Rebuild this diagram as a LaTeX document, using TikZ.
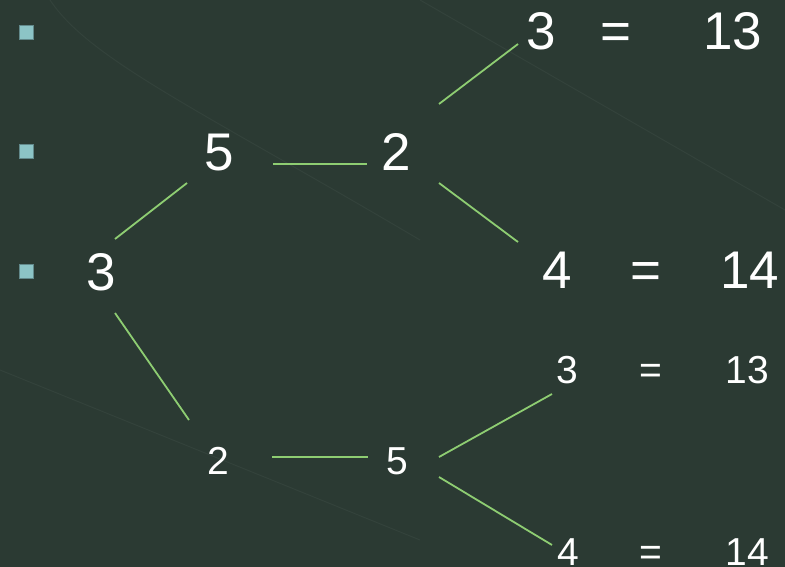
\documentclass[tikz,border=0pt]{standalone}
\usepackage{fontspec}
\setmainfont{Liberation Sans}
\definecolor{bgc}{RGB}{43,58,51}
\definecolor{bul}{RGB}{140,196,198}
\definecolor{lnc}{RGB}{142,205,114}
\begin{document}
\begin{tikzpicture}[x=1pt,y=-1pt,
  big/.style={text=white,anchor=base,inner sep=0pt,font=\fontsize{53}{53}\selectfont},
  small/.style={text=white,anchor=base,inner sep=0pt,font=\fontsize{39}{39}\selectfont},
  bullet/.style={fill=bul,draw=bul!70!black,line width=0.5pt,minimum size=14pt,inner sep=0pt},
  link/.style={draw=lnc,line width=1.8pt},
  streak/.style={draw=white!4!bgc,line width=1pt}]
\fill[bgc] (0,0) rectangle (785,567);
\useasboundingbox (0,0) rectangle (785,567);
% faint background streaks
\draw[streak] (50,0) .. controls (90,60) and (200,110) .. (420,240);
\draw[streak] (420,0) -- (785,210);
\draw[streak] (0,370) -- (420,540);
% bullets
\node[bullet] (b1) at (26,32) {};
\node[bullet] (b2) at (26,151) {};
\node[bullet] (b3) at (26,271) {};
% tree nodes
\node[big] (a3) at (101,290) {3};
\node[big] (u5) at (219,171) {5};
\node[big] (u2) at (396,171) {2};
\node[big] (t3) at (541,50) {3};
\node[big] (te) at (616,50) {=};
\node[big] (t13) at (733,50) {13};
\node[big] (m4) at (557,288) {4};
\node[big] (me) at (646,288) {=};
\node[big] (m14) at (750,288) {14};
\node[small] (l2) at (218,474) {2};
\node[small] (l5) at (397,474) {5};
\node[small] (r3) at (567,383) {3};
\node[small] (re) at (651,383) {=};
\node[small] (r13) at (747,383) {13};
\node[small] (s4) at (568,565) {4};
\node[small] (se) at (651,565) {=};
\node[small] (s14) at (747,565) {14};
% connector ends
\coordinate (c1a) at (115,239); \coordinate (c1b) at (187,183);
\coordinate (c2a) at (273,164); \coordinate (c2b) at (367,164);
\coordinate (c3a) at (439,104); \coordinate (c3b) at (518,44);
\coordinate (c4a) at (439,183); \coordinate (c4b) at (518,242);
\coordinate (c5a) at (115,313); \coordinate (c5b) at (189,420);
\coordinate (c6a) at (272,457); \coordinate (c6b) at (368,457);
\coordinate (c7a) at (439,457); \coordinate (c7b) at (552,394);
\coordinate (c8a) at (439,477); \coordinate (c8b) at (552,545);
\draw[link] (c1a) -- (c1b);
\draw[link] (c2a) -- (c2b);
\draw[link] (c3a) -- (c3b);
\draw[link] (c4a) -- (c4b);
\draw[link] (c5a) -- (c5b);
\draw[link] (c6a) -- (c6b);
\draw[link] (c7a) -- (c7b);
\draw[link] (c8a) -- (c8b);
\end{tikzpicture}
\end{document}
